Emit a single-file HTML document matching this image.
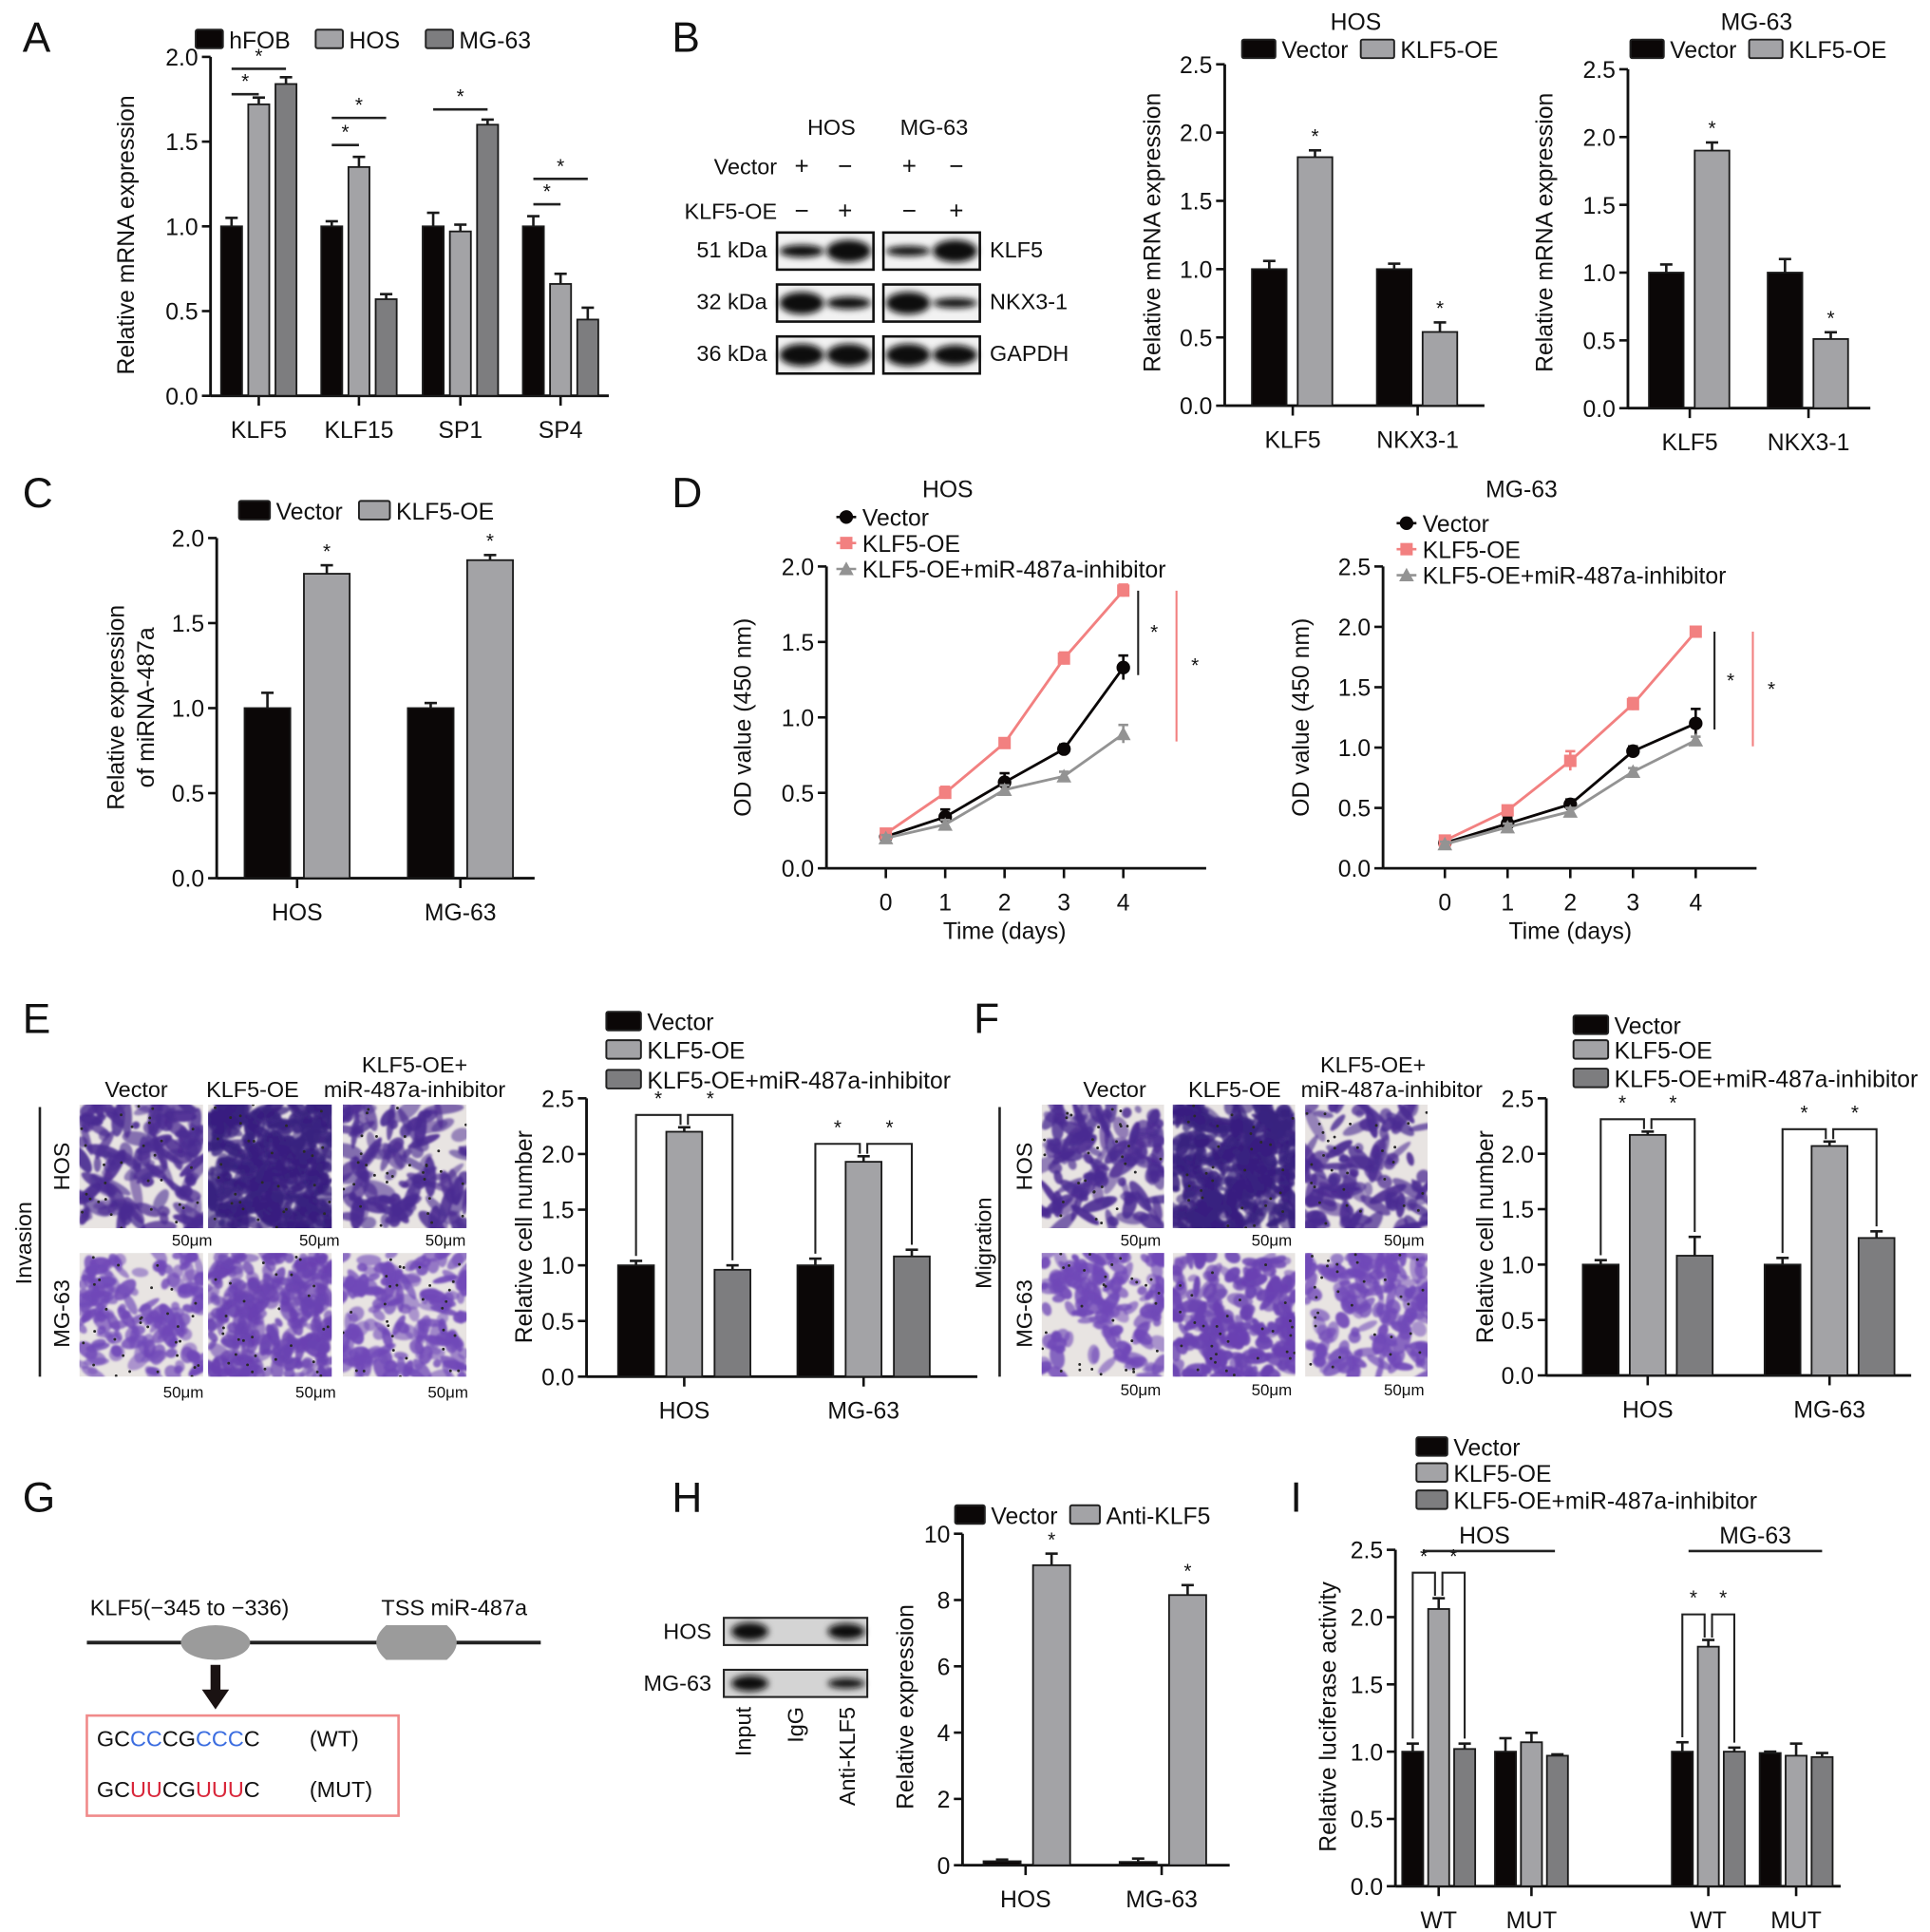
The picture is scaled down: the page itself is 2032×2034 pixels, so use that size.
<!DOCTYPE html>
<html><head><meta charset="utf-8"><title>KLF5 figure</title>
<style>
html,body{margin:0;padding:0;background:#fff;}
svg{display:block;font-family:"Liberation Sans",Arial,sans-serif;}
text{fill:#111;}
</style></head>
<body>
<svg id="fig" xmlns="http://www.w3.org/2000/svg" viewBox="0 0 1560 1562" width="2032" height="2034">
<defs>
<filter id="blur" x="-30%" y="-60%" width="160%" height="220%"><feGaussianBlur stdDeviation="2.6"/></filter>
<filter id="blur2"><feGaussianBlur stdDeviation="0.8"/></filter>
</defs>
<rect x="0" y="0" width="1560" height="1562" fill="#fff"/>
<g font-size="34">
<text x="18" y="42">A</text>
<text x="543" y="42">B</text>
<text x="18" y="410">C</text>
<text x="543" y="410">D</text>
<text x="18" y="835">E</text>
<text x="787" y="835">F</text>
<text x="18" y="1222">G</text>
<text x="543" y="1222">H</text>
<text x="1043" y="1222">I</text>
</g>

<g id="blotB" font-size="18">
<text x="672" y="109" text-anchor="middle">HOS</text>
<text x="755" y="109" text-anchor="middle">MG-63</text>
<text x="628" y="141" text-anchor="end">Vector</text>
<text x="628" y="177" text-anchor="end">KLF5-OE</text>
<g font-size="20" text-anchor="middle">
<text x="648" y="141">+</text><text x="683" y="141">−</text><text x="735" y="141">+</text><text x="773" y="141">−</text>
<text x="648" y="177">−</text><text x="683" y="177">+</text><text x="735" y="177">−</text><text x="773" y="177">+</text>
</g>
<text x="620" y="208" text-anchor="end">51 kDa</text>
<text x="620" y="250" text-anchor="end">32 kDa</text>
<text x="620" y="292" text-anchor="end">36 kDa</text>
<text x="800" y="208">KLF5</text>
<text x="800" y="250">NKX3-1</text>
<text x="800" y="292">GAPDH</text>
</g>

<g font-size="18">
<text x="153" y="1306" text-anchor="middle">KLF5(−345 to −336)</text>
<text x="367" y="1306" text-anchor="middle">TSS miR-487a</text>
<line x1="70" y1="1328" x2="437" y2="1328" stroke="#222" stroke-width="3"/>
<ellipse cx="174" cy="1328" rx="28" ry="14" fill="#9b9b9b"/>
<path d="M312 1314 L361 1314 Q369 1321 369 1328 Q369 1335 361 1342 L312 1342 Q304 1335 304 1328 Q304 1321 312 1314 Z" fill="#9b9b9b"/>
<path d="M170 1346 L178 1346 L178 1366 L185 1366 L174 1382 L163 1366 L170 1366 Z" fill="#1a1212"/>
<rect x="70" y="1387" width="252" height="81" fill="none" stroke="#f08a8a" stroke-width="2"/>
<text x="78" y="1412">GC<tspan fill="#3b6de0">CC</tspan>CG<tspan fill="#3b6de0">CCC</tspan>C</text>
<text x="250" y="1412">(WT)</text>
<text x="78" y="1453">GC<tspan fill="#d9263a">UU</tspan>CG<tspan fill="#d9263a">UUU</tspan>C</text>
<text x="250" y="1453">(MUT)</text>
</g>

<g id="blotH" font-size="18">
<text x="575" y="1325" text-anchor="end">HOS</text>
<text x="575" y="1367" text-anchor="end">MG-63</text>
<text transform="translate(607,1380) rotate(-90)" text-anchor="end">Input</text>
<text transform="translate(649,1380) rotate(-90)" text-anchor="end">IgG</text>
<text transform="translate(691,1380) rotate(-90)" text-anchor="end">Anti-KLF5</text>
</g>

<g font-size="18">
<text x="110" y="887" text-anchor="middle">Vector</text>
<text x="204" y="887" text-anchor="middle">KLF5-OE</text>
<text x="335" y="867" text-anchor="middle">KLF5-OE+</text>
<text x="335" y="887" text-anchor="middle">miR-487a-inhibitor</text>
<line x1="32" y1="895" x2="32" y2="1113" stroke="#222" stroke-width="2"/>
<text transform="translate(25,1005) rotate(-90)" text-anchor="middle">Invasion</text>
<text transform="translate(56,943) rotate(-90)" text-anchor="middle">HOS</text>
<text transform="translate(56,1062) rotate(-90)" text-anchor="middle">MG-63</text>
</g>
<g font-size="18">
<text x="901" y="887" text-anchor="middle">Vector</text>
<text x="998" y="887" text-anchor="middle">KLF5-OE</text>
<text x="1110" y="867" text-anchor="middle">KLF5-OE+</text>
<text x="1125" y="887" text-anchor="middle">miR-487a-inhibitor</text>
<line x1="808" y1="895" x2="808" y2="1113" stroke="#222" stroke-width="2"/>
<text transform="translate(801,1005) rotate(-90)" text-anchor="middle">Migration</text>
<text transform="translate(834,943) rotate(-90)" text-anchor="middle">HOS</text>
<text transform="translate(834,1062) rotate(-90)" text-anchor="middle">MG-63</text>
</g>

<g id="charts"></g>
</svg>

<script>
// ---------- DATA ----------
const A_cats = ['KLF5','KLF15','SP1','SP4'];
const A_hfob = [1.0, 1.0, 1.0, 1.0];
const A_hfobErr = [0.05, 0.03, 0.08, 0.06];
const A_hos = [1.72, 1.35, 0.97, 0.66];
const A_hosErr = [0.04, 0.06, 0.04, 0.06];
const A_mg = [1.84, 0.57, 1.60, 0.45];
const A_mgErr = [0.04, 0.03, 0.03, 0.07];
const A_ticks = [0, 0.5, 1.0, 1.5, 2.0];
const A_tickLabels = ['0.0','0.5','1.0','1.5','2.0'];

const B_cats = ['KLF5','NKX3-1'];
const B_hosVec = [1.0, 1.0];
const B_hosVecErr = [0.06, 0.04];
const B_hosOE = [1.82, 0.54];
const B_hosOEErr = [0.05, 0.07];
const B_mgVec = [1.0, 1.0];
const B_mgVecErr = [0.06, 0.10];
const B_mgOE = [1.90, 0.51];
const B_mgOEErr = [0.06, 0.05];
const B_ticks = [0, 0.5, 1.0, 1.5, 2.0, 2.5];
const B_tickLabels = ['0.0','0.5','1.0','1.5','2.0','2.5'];

const C_cats = ['HOS','MG-63'];
const C_vec = [1.0, 1.0];
const C_vecErr = [0.09, 0.03];
const C_oe = [1.79, 1.87];
const C_oeErr = [0.05, 0.03];
const C_ticks = [0, 0.5, 1.0, 1.5, 2.0];
const C_tickLabels = ['0.0','0.5','1.0','1.5','2.0'];

const D_days = [0, 1, 2, 3, 4];
const D_hosVec = [0.21, 0.34, 0.57, 0.79, 1.33];
const D_hosVecErr = [0.03, 0.05, 0.06, 0.03, 0.08];
const D_hosOE = [0.23, 0.50, 0.83, 1.39, 1.84];
const D_hosOEErr = [0.02, 0.04, 0.03, 0.04, 0.04];
const D_hosInh = [0.20, 0.29, 0.52, 0.61, 0.89];
const D_hosInhErr = [0.02, 0.03, 0.03, 0.03, 0.06];
const D_mgVec = [0.21, 0.37, 0.53, 0.97, 1.20];
const D_mgVecErr = [0.03, 0.05, 0.04, 0.04, 0.12];
const D_mgOE = [0.23, 0.48, 0.89, 1.36, 1.96];
const D_mgOEErr = [0.02, 0.03, 0.08, 0.05, 0.03];
const D_mgInh = [0.20, 0.34, 0.47, 0.80, 1.06];
const D_mgInhErr = [0.02, 0.03, 0.03, 0.03, 0.03];
const D_hosTicks = [0, 0.5, 1.0, 1.5, 2.0];
const D_hosTickLabels = ['0.0','0.5','1.0','1.5','2.0'];
const D_mgTicks = [0, 0.5, 1.0, 1.5, 2.0, 2.5];
const D_mgTickLabels = ['0.0','0.5','1.0','1.5','2.0','2.5'];

const E_cats = ['HOS','MG-63'];
const E_vec = [1.0, 1.0];
const E_vecErr = [0.04, 0.06];
const E_oe = [2.20, 1.93];
const E_oeErr = [0.04, 0.05];
const E_inh = [0.96, 1.08];
const E_inhErr = [0.04, 0.06];
const F_vec = [1.0, 1.0];
const F_vecErr = [0.04, 0.06];
const F_oe = [2.17, 2.07];
const F_oeErr = [0.03, 0.04];
const F_inh = [1.08, 1.24];
const F_inhErr = [0.17, 0.06];
const EF_ticks = [0, 0.5, 1.0, 1.5, 2.0, 2.5];
const EF_tickLabels = ['0.0','0.5','1.0','1.5','2.0','2.5'];

const H_cats = ['HOS','MG-63'];
const H_vec = [0.12, 0.10];
const H_vecErr = [0.05, 0.10];
const H_anti = [9.05, 8.15];
const H_antiErr = [0.35, 0.30];
const H_ticks = [0, 2, 4, 6, 8, 10];
const H_tickLabels = ['0','2','4','6','8','10'];

const I_cats = ['WT','MUT','WT','MUT'];
const I_vec = [1.0, 1.0, 1.0, 0.99];
const I_vecErr = [0.06, 0.10, 0.07, 0.01];
const I_oe = [2.06, 1.07, 1.78, 0.97];
const I_oeErr = [0.08, 0.07, 0.05, 0.09];
const I_inh = [1.02, 0.97, 1.00, 0.96];
const I_inhErr = [0.04, 0.01, 0.03, 0.03];
const I_sigLevel = [2.33, 2.02];
const I_ticks = [0, 0.5, 1.0, 1.5, 2.0, 2.5];
const I_tickLabels = ['0.0','0.5','1.0','1.5','2.0','2.5'];

// ---------- HELPERS ----------
const NS = 'http://www.w3.org/2000/svg';
const root = document.getElementById('charts');
function el(tag, attrs, parent) {
  const e = document.createElementNS(NS, tag);
  for (const k in attrs) e.setAttribute(k, attrs[k]);
  (parent || root).appendChild(e);
  return e;
}
function txt(s, attrs, parent) { const t = el('text', attrs, parent); t.textContent = s; return t; }
const BLACK = '#0b0707', LIGHT = '#a3a3a6', DARK = '#7d7d7f';

function mkScale(c) { return v => c.y0 - v / c.yMax * (c.y0 - c.yTop); }

function drawAxes(g, c, ticks, tickLabels, cats, catX) {
  const y = mkScale(c);
  const ya = el('line', {x1:c.ax, y1:c.y0, x2:c.ax, y2:c.yTop, stroke:'#111', 'stroke-width':2.2}, g);
  
  
  ticks.forEach((t, i) => {
    el('line', {x1:c.ax-7, y1:y(t), x2:c.ax, y2:y(t), stroke:'#111', 'stroke-width':2}, g);
    const tl = txt(tickLabels[i], {x:c.ax-10, y:y(t)+7, 'text-anchor':'end', 'font-size':19}, g);
    
    
  });
  const xa = el('line', {x1:c.ax, y1:c.y0, x2:c.xEnd, y2:c.y0, stroke:'#111', 'stroke-width':2.2}, g);
  
  
  cats.forEach((cat, i) => {
    el('line', {x1:catX[i], y1:c.y0, x2:catX[i], y2:c.y0+8, stroke:'#111', 'stroke-width':2}, g);
    const cl = txt(cat, {x:catX[i], y:c.y0+34, 'text-anchor':'middle', 'font-size':19}, g);
    
    
  });
}

function drawBarSeries(g, c, vals, errs, catX, off, w, fill, name) {
  const y = mkScale(c);
  vals.forEach((v, i) => {
    const cx = catX[i] + off;
    const r = el('rect', {x:cx-w/2, y:y(v), width:w, height:c.y0-y(v), fill:fill, stroke:'#1a1a1a', 'stroke-width':1.4}, g);
    
    
    const top = y(v + errs[i]);
    el('line', {x1:cx, y1:y(v), x2:cx, y2:top, stroke:'#1a1a1a', 'stroke-width':2}, g);
    el('line', {x1:cx-5, y1:top, x2:cx+5, y2:top, stroke:'#1a1a1a', 'stroke-width':2}, g);
  });
}

function yLabel(g, s, x, yc, size) {
  const t = txt(s, {transform:`translate(${x},${yc}) rotate(-90)`, 'text-anchor':'middle', 'font-size':size||19}, g);
  
  
  return t;
}
function legendBox(g, x, y, w, fill, label, name) {
  const r = el('rect', {x:x, y:y-8, width:w, height:15, fill:fill, stroke:'#222', 'stroke-width':1.5, rx:1.5}, g);
  
  
  const t = txt(label, {x:x+w+5, y:y+7, 'font-size':19}, g);
  
  
}
function star(g, x, y) { txt('*', {x:x, y:y, 'text-anchor':'middle', 'font-size':16}, g); }
function sigLine(g, x1, x2, yy) {
  el('line', {x1:x1, y1:yy, x2:x2, y2:yy, stroke:'#222', 'stroke-width':2}, g);
  star(g, (x1+x2)/2, yy-5);
}
function bracket(g, x1, y1, x2, y2, yy) {
  el('polyline', {points:`${x1},${y1} ${x1},${yy} ${x2},${yy} ${x2},${y2}`, fill:'none', stroke:'#222', 'stroke-width':1.6}, g);
  star(g, (x1+x2)/2, yy-8);
}
function group(name) {
  const g = el('g', {});
  
  
  return g;
}

// ---------- PANEL A ----------
(function(){
  const g = group('chart-a');
  const c = {ax:170, y0:320, yTop:46, yMax:2.0, xEnd:492};
  const catX = [209, 290, 372, 453];
  const y = mkScale(c);
  drawAxes(g, c, A_ticks, A_tickLabels, A_cats, catX);
  drawBarSeries(g, c, A_hfob, A_hfobErr, catX, -22, 17, BLACK, 'hfob');
  drawBarSeries(g, c, A_hos, A_hosErr, catX, 0, 17, LIGHT, 'hos');
  drawBarSeries(g, c, A_mg, A_mgErr, catX, 22, 17, DARK, 'mg63');
  yLabel(g, 'Relative mRNA expression', 108, 190);
  legendBox(g, 158, 32, 22, BLACK, 'hFOB', 'legend-hfob');
  legendBox(g, 255, 32, 22, LIGHT, 'HOS', 'legend-hos');
  legendBox(g, 344, 32, 22, DARK, 'MG-63', 'legend-mg63');
  sigLine(g, catX[0]-22, catX[0], y(1.78)); sigLine(g, catX[0]-22, catX[0]+22, y(1.93));
  sigLine(g, catX[1]-22, catX[1], y(1.48)); sigLine(g, catX[1]-22, catX[1]+22, y(1.64));
  sigLine(g, catX[2]-22, catX[2]+22, y(1.69));
  sigLine(g, catX[3]-22, catX[3], y(1.13)); sigLine(g, catX[3]-22, catX[3]+22, y(1.28));
})();

// ---------- PANEL B blots ----------
(function(){
  const g = document.getElementById('blotB');
  const rows = [188, 230, 272];
  const boxes = [628, 714];
  const bands = [[5,9,4,9],[9,5,9,4],[9,9,9,8]];
  const laneX = [648, 686, 734, 772];
  rows.forEach((ry, ri) => {
    boxes.forEach(bx => {
      const r = el('rect', {x:bx, y:ry, width:78, height:30, fill:'#f2f2f2', stroke:'#111', 'stroke-width':2}, g);
      
      
    });
    laneX.forEach((lx, li) => {
      const b = el('ellipse', {cx:lx, cy:ry+15, rx:18, ry:bands[ri][li], fill:'#0c0c0c', filter:'url(#blur)'}, g);
      
      
    });
  });
})();

// ---------- PANEL B charts ----------
function twoBar(name, c, catX, v1, e1, v2, e2, ticks, tl, title, titleX, lx, legY, ylx) {
  const g = group(name);
  const y = mkScale(c);
  drawAxes(g, c, ticks, tl, B_cats, catX);
  drawBarSeries(g, c, v1, e1, catX, -19, 28, BLACK, 'vector');
  drawBarSeries(g, c, v2, e2, catX, 18, 28, LIGHT, 'klf5-oe');
  const t = txt(title, {x:titleX, y:24, 'text-anchor':'middle', 'font-size':19}, g);
  
  
  legendBox(g, lx, legY, 27, BLACK, 'Vector', 'legend-vector');
  legendBox(g, lx+96, legY, 27, LIGHT, 'KLF5-OE', 'legend-klf5-oe');
  v2.forEach((v, i) => star(g, catX[i]+18, y(v + e2[i]) - 6));
  yLabel(g, 'Relative mRNA expression', ylx, 188);
}
const Bh = {ax:990, y0:328, yTop:52, yMax:2.5, xEnd:1200};
twoBar('chart-b-hos', Bh, [1045, 1146], B_hosVec, B_hosVecErr, B_hosOE, B_hosOEErr, B_ticks, B_tickLabels, 'HOS', 1096, 1004, 40, 938);
const Bm = {ax:1316, y0:330, yTop:56, yMax:2.5, xEnd:1512};
twoBar('chart-b-mg63', Bm, [1366, 1462], B_mgVec, B_mgVecErr, B_mgOE, B_mgOEErr, B_ticks, B_tickLabels, 'MG-63', 1420, 1318, 40, 1255);

// ---------- PANEL C ----------
(function(){
  const g = group('chart-c');
  const c = {ax:175, y0:710, yTop:435, yMax:2.0, xEnd:432};
  const catX = [240, 372];
  const y = mkScale(c);
  drawAxes(g, c, C_ticks, C_tickLabels, C_cats, catX);
  drawBarSeries(g, c, C_vec, C_vecErr, catX, -24, 37, BLACK, 'vector');
  drawBarSeries(g, c, C_oe, C_oeErr, catX, 24, 37, LIGHT, 'klf5-oe');
  C_oe.forEach((v, i) => star(g, catX[i]+24, y(v + C_oeErr[i]) - 6));
  legendBox(g, 193, 413, 25, BLACK, 'Vector', 'legend-vector');
  legendBox(g, 290, 413, 25, LIGHT, 'KLF5-OE', 'legend-klf5-oe');
  yLabel(g, 'Relative expression', 100, 572);
  yLabel(g, 'of miRNA-487a', 124, 572);
})();

// ---------- PANEL D ----------
const RED = '#f28080', GRAY = '#939393';
function marker(g, type, x, yy, col) {
  let m;
  if (type === 'circle') m = el('circle', {cx:x, cy:yy, r:5.5, fill:col}, g);
  else if (type === 'square') m = el('rect', {x:x-5, y:yy-5, width:10, height:10, fill:col}, g);
  else m = el('path', {d:`M${x} ${yy-6} L${x+6} ${yy+5} L${x-6} ${yy+5} Z`, fill:col}, g);
  return m;
}
function lineChart(name, c, xs, ticks, tl, series, title, titleX, legX, legY0, ylx, sig) {
  const g = group(name);
  const y = mkScale(c);
  const x = d => c.x0 + d * c.dx;
  drawAxes(g, c, ticks, tl, xs.map(String), xs.map(x));
  series.forEach(s => {
    const pts = s.vals.map((v, i) => `${x(xs[i])},${y(v)}`).join(' ');
    const pl = el('polyline', {points:pts, fill:'none', stroke:s.col, 'stroke-width':2.2}, g);
    
    
    s.vals.forEach((v, i) => {
      const px = x(xs[i]);
      el('line', {x1:px, y1:y(v - s.err[i]), x2:px, y2:y(v + s.err[i]), stroke:s.col, 'stroke-width':2}, g);
      el('line', {x1:px-4, y1:y(v + s.err[i]), x2:px+4, y2:y(v + s.err[i]), stroke:s.col, 'stroke-width':2}, g);
      const m = marker(g, s.mk, px, y(v), s.col);
      
      
    });
  });
  const t = txt(title, {x:titleX, y:402, 'text-anchor':'middle', 'font-size':19}, g);
  
  
  series.forEach((s, i) => {
    const ly = legY0 + i * 21;
    el('line', {x1:legX-8, y1:ly, x2:legX+8, y2:ly, stroke:s.col, 'stroke-width':2}, g);
    marker(g, s.mk, legX, ly, s.col);
    const lt = txt(s.label, {x:legX+13, y:ly+7, 'font-size':19}, g);
    
    
  });
  yLabel(g, 'OD value (450 nm)', ylx, 580);
  const xt = txt('Time (days)', {x:(x(xs[0])+x(xs[xs.length-1]))/2, y:c.y0+57, 'text-anchor':'middle', 'font-size':19}, g);
  
  
  const last = xs.length - 1;
  const oe = series[1].vals[last], vec = series[0].vals[last], inh = series[2].vals[last];
  el('line', {x1:sig, y1:y(oe), x2:sig, y2:y(vec - 0.05), stroke:'#222', 'stroke-width':1.6}, g);
  star(g, sig+13, y((oe+vec)/2)+8);
  el('line', {x1:sig+31, y1:y(oe), x2:sig+31, y2:y(inh - 0.05), stroke:RED, 'stroke-width':1.6}, g);
  star(g, sig+46, y((oe+inh)/2)+8);
}
lineChart('chart-d-hos', {ax:668, y0:702, yTop:458, yMax:2.0, xEnd:975, x0:716, dx:48},
  D_days, D_hosTicks, D_hosTickLabels, [
    {name:'vector', label:'Vector', vals:D_hosVec, err:D_hosVecErr, col:BLACK, mk:'circle'},
    {name:'klf5-oe', label:'KLF5-OE', vals:D_hosOE, err:D_hosOEErr, col:RED, mk:'square'},
    {name:'klf5-oe-inhibitor', label:'KLF5-OE+miR-487a-inhibitor', vals:D_hosInh, err:D_hosInhErr, col:GRAY, mk:'triangle'}
  ], 'HOS', 766, 684, 418, 607, 920);
lineChart('chart-d-mg63', {ax:1118, y0:702, yTop:458, yMax:2.5, xEnd:1420, x0:1168, dx:50.7},
  D_days, D_mgTicks, D_mgTickLabels, [
    {name:'vector', label:'Vector', vals:D_mgVec, err:D_mgVecErr, col:BLACK, mk:'circle'},
    {name:'klf5-oe', label:'KLF5-OE', vals:D_mgOE, err:D_mgOEErr, col:RED, mk:'square'},
    {name:'klf5-oe-inhibitor', label:'KLF5-OE+miR-487a-inhibitor', vals:D_mgInh, err:D_mgInhErr, col:GRAY, mk:'triangle'}
  ], 'MG-63', 1230, 1137, 423, 1058, 1386);

// ---------- PANELS E/F charts ----------
function threeBar(name, c, catX, v1, e1, v2, e2, v3, e3, legX, legYs, ylx, off, bw) {
  const g = group(name);
  const y = mkScale(c);
  drawAxes(g, c, EF_ticks, EF_tickLabels, E_cats, catX);
  drawBarSeries(g, c, v1, e1, catX, -off, bw, BLACK, 'vector');
  drawBarSeries(g, c, v2, e2, catX, 0, bw, LIGHT, 'klf5-oe');
  drawBarSeries(g, c, v3, e3, catX, off, bw, DARK, 'klf5-oe-inhibitor');
  catX.forEach((cx, i) => {
    const yy = y(v2[i] + e2[i]) - 10;
    bracket(g, cx-off, y(v1[i]+e1[i])-4, cx-3, y(v2[i]+e2[i])-2, yy);
    bracket(g, cx+3, y(v2[i]+e2[i])-2, cx+off, y(v3[i]+e3[i])-4, yy);
  });
  legendBox(g, legX, legYs[0], 28, BLACK, 'Vector', 'legend-vector');
  legendBox(g, legX, legYs[1], 28, LIGHT, 'KLF5-OE', 'legend-klf5-oe');
  legendBox(g, legX, legYs[2], 28, DARK, 'KLF5-OE+miR-487a-inhibitor', 'legend-klf5-oe-inhibitor');
  yLabel(g, 'Relative cell number', ylx, 1000);
}
threeBar('chart-e', {ax:474, y0:1113, yTop:888, yMax:2.5, xEnd:790}, [553, 698],
  E_vec, E_vecErr, E_oe, E_oeErr, E_inh, E_inhErr, 490, [826, 849, 873], 430, 39, 29);
threeBar('chart-f', {ax:1250, y0:1112, yTop:888, yMax:2.5, xEnd:1545}, [1332, 1479],
  F_vec, F_vecErr, F_oe, F_oeErr, F_inh, F_inhErr, 1272, [829, 849, 872], 1207, 38, 29);

// ---------- micrographs (procedural texture) ----------
function micro(x, y, w, h, n, seed, col, elong, nm) {
  const g = el('g', {});
  
  
  el('rect', {x:x, y:y, width:w, height:h, fill:'#e8e4e2'}, g);
  let s = seed;
  const rnd = () => { s = (s * 1103515245 + 12345) % 2147483648; return s / 2147483648; };
  const inner = el('g', {filter:'url(#blur2)'}, g);
  for (let i = 0; i < n; i++) {
    const cx = x + rnd() * w, cy = y + rnd() * h;
    const rx = 3 + rnd() * (5 + elong), ry = 2.5 + rnd() * 3.5;
    el('ellipse', {cx:cx, cy:cy, rx:rx, ry:ry, transform:`rotate(${rnd()*180} ${cx} ${cy})`, fill:col, opacity:0.5 + rnd()*0.45}, inner);
  }
  for (let i = 0; i < 30; i++) el('circle', {cx:x + rnd()*w, cy:y + rnd()*h, r:1.1, fill:'#2a2a2a'}, g);
  const cp = el('clipPath', {id:'cp' + seed});
  el('rect', {x:x, y:y, width:w, height:h}, cp);
  g.setAttribute('clip-path', `url(#cp${seed})`);
}
const imgE = [[64,893],[168,893],[277,893],[64,1013],[168,1013],[277,1013]];
const imgF = [[842,893],[948,893],[1055,893],[842,1013],[948,1013],[1055,1013]];
const dens = [120, 290, 100, 140, 250, 150];
const cols = ['#4a2a92','#382080','#4a2a92','#7048b8','#6a42b2','#7048b8'];
const elong = [9, 8, 9, 3, 3, 4];
imgE.forEach((p, i) => micro(p[0], p[1], 100, 100, dens[i], 11 + i*7, cols[i], elong[i], 'invasion-image'));
imgF.forEach((p, i) => micro(p[0], p[1], 99, 100, dens[i], 101 + i*7, cols[i], elong[i], 'migration-image'));
const scaleE = [[155,1007],[258,1007],[360,1007],[148,1130],[255,1130],[362,1130]];
const scaleF = [[922,1007],[1028,1007],[1135,1007],[922,1128],[1028,1128],[1135,1128]];
scaleE.concat(scaleF).forEach(p => {
  const t = txt('50μm', {x:p[0], y:p[1], 'text-anchor':'middle', 'font-size':13}, root);
  
  
});

// ---------- PANEL H ----------
(function(){
  const g = document.getElementById('blotH');
  const rows = [1308, 1350];
  const ints = [[9,0,8],[8,0,5]];
  const lanes = [606, 648, 684];
  rows.forEach((ry, ri) => {
    const r = el('rect', {x:585, y:ry, width:116, height:22, fill:'#d4d4d4', stroke:'#222', 'stroke-width':1.6}, g);
    
    
    lanes.forEach((lx, li) => { if (ints[ri][li]) el('ellipse', {cx:lx, cy:ry+11, rx:15, ry:ints[ri][li]*0.8, fill:'#111', filter:'url(#blur)'}, g); });
  });
  const gc = group('chart-h');
  const c = {ax:778, y0:1508, yTop:1240, yMax:10, xEnd:994};
  const catX = [829, 939];
  const y = mkScale(c);
  drawAxes(gc, c, H_ticks, H_tickLabels, H_cats, catX);
  drawBarSeries(gc, c, H_vec, H_vecErr, catX, -19, 30, BLACK, 'vector');
  drawBarSeries(gc, c, H_anti, H_antiErr, catX, 21, 30, LIGHT, 'anti-klf5');
  H_anti.forEach((v, i) => star(gc, catX[i]+21, y(v + H_antiErr[i]) - 6));
  legendBox(gc, 772, 1225, 24, BLACK, 'Vector', 'legend-vector');
  legendBox(gc, 865, 1225, 24, LIGHT, 'Anti-KLF5', 'legend-anti-klf5');
  yLabel(gc, 'Relative expression', 738, 1380);
})();

// ---------- PANEL I ----------
(function(){
  const g = group('chart-i');
  const c = {ax:1128, y0:1525, yTop:1253, yMax:2.5, xEnd:1488};
  const catX = [1163, 1238, 1381, 1452];
  const y = mkScale(c);
  drawAxes(g, c, I_ticks, I_tickLabels, I_cats, catX);
  drawBarSeries(g, c, I_vec, I_vecErr, catX, -21, 17, BLACK, 'vector');
  drawBarSeries(g, c, I_oe, I_oeErr, catX, 0, 17, LIGHT, 'klf5-oe');
  drawBarSeries(g, c, I_inh, I_inhErr, catX, 21, 17, DARK, 'klf5-oe-inhibitor');
  [0, 2].forEach((i, k) => {
    const cx = catX[i];
    const yy = y(I_sigLevel[k]);
    bracket(g, cx-21, y(I_vec[i]+I_vecErr[i])-4, cx-3, y(I_oe[i]+I_oeErr[i])-2, yy);
    bracket(g, cx+3, y(I_oe[i]+I_oeErr[i])-2, cx+21, y(I_inh[i]+I_inhErr[i])-4, yy);
  });
  el('line', {x1:1150, y1:1254, x2:1257, y2:1254, stroke:'#222', 'stroke-width':2}, g);
  txt('HOS', {x:1200, y:1248, 'text-anchor':'middle', 'font-size':19}, g);
  el('line', {x1:1365, y1:1254, x2:1473, y2:1254, stroke:'#222', 'stroke-width':2}, g);
  txt('MG-63', {x:1419, y:1248, 'text-anchor':'middle', 'font-size':19}, g);
  legendBox(g, 1145, 1170, 25, BLACK, 'Vector', 'legend-vector');
  legendBox(g, 1145, 1191, 25, LIGHT, 'KLF5-OE', 'legend-klf5-oe');
  legendBox(g, 1145, 1213, 25, DARK, 'KLF5-OE+miR-487a-inhibitor', 'legend-klf5-oe-inhibitor');
  yLabel(g, 'Relative luciferase activity', 1080, 1388);
})();
</script>
</body></html>
